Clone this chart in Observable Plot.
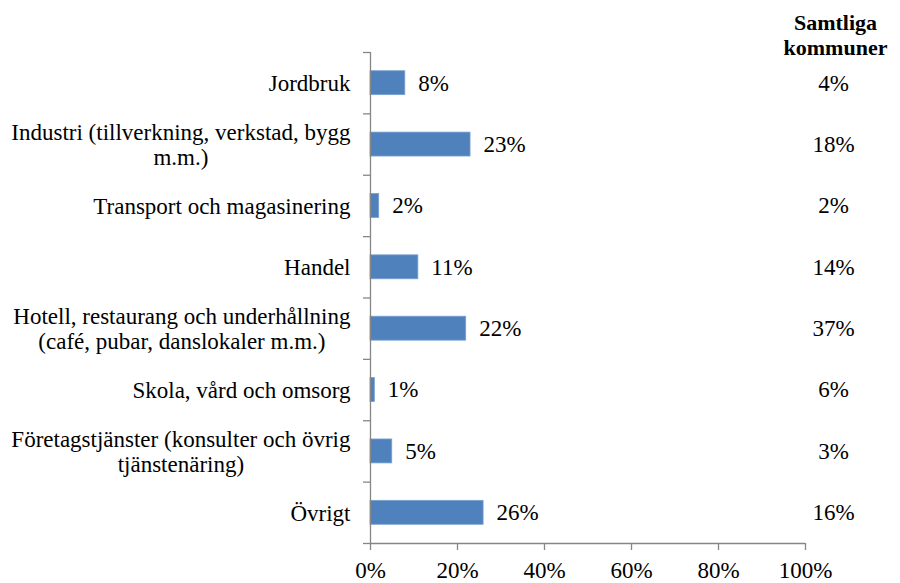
<!DOCTYPE html>
<html><head><meta charset="utf-8">
<script src="https://cdn.jsdelivr.net/npm/d3@7"></script>
<script src="https://cdn.jsdelivr.net/npm/@observablehq/plot@0.6"></script>
<style>body{margin:0;background:#fff} svg text{font-family:"Liberation Serif","Times New Roman",serif}</style>
</head><body><div id="chart"></div>
<script>
const categories = [
  "Jordbruk",
  "Industri (tillverkning, verkstad, bygg\nm.m.)",
  "Transport och magasinering",
  "Handel",
  "Hotell, restaurang och underhållning\n(café, pubar, danslokaler m.m.)",
  "Skola, vård och omsorg",
  "Företagstjänster (konsulter och övrig\ntjänstenäring)",
  "Övrigt"
];
const shares = [8, 23, 2, 11, 22, 1, 5, 26];
const allMunicipalities = [4, 18, 2, 14, 37, 6, 3, 16];
const xTicks = [0, 20, 40, 60, 80, 100];
const columnHeader = "Samtliga\nkommuner";

const FONT = '"Liberation Serif", "Times New Roman", serif';
const FS = 23;
const rows = categories.map((c, i) => ({cat: c, i, share: shares[i], all: allMunicipalities[i]}));
const boundaries = d3.range(categories.length + 1);

const ctx = document.createElement("canvas").getContext("2d");
ctx.font = `${FS}px ${FONT}`;
const labelWidth = (s) => d3.max(s.split("\n"), (l) => ctx.measureText(l).width);

const labelMarks = rows.map((r) =>
  Plot.text([r], {
    y: (d) => d.i + 0.5,
    text: "cat",
    frameAnchor: "left",
    textAnchor: "middle",
    lineHeight: 1.08,
    dx: -20 - labelWidth(r.cat) / 2,
    fill: "black",
    fontFamily: FONT
  })
);

const chart = Plot.plot({
  width: 900,
  height: 583,
  marginTop: 52,
  marginBottom: 40,
  marginLeft: 370,
  marginRight: 95,
  style: {fontFamily: FONT, fontSize: FS + "px", background: "#fff", color: "black"},
  x: {domain: [0, 100], label: null},
  y: {domain: [0, categories.length], reverse: true, label: null},
  marks: [
    Plot.rectX(rows, {x1: 0, x2: "share", y1: (d) => d.i + 0.305, y2: (d) => d.i + 0.695, fill: "#4f81bd", stroke: "#7aa0d0", strokeWidth: 0.8}),
    Plot.ruleX([0], {stroke: "#868686", strokeWidth: 1.3}),
    Plot.ruleY([categories.length], {stroke: "#868686", strokeWidth: 1.3}),
    Plot.axisY({ticks: boundaries, tickSize: 7, tickFormat: () => "", label: null, stroke: "#868686", strokeWidth: 1.3}),
    Plot.axisX({ticks: xTicks, tickFormat: (d) => d + "%", tickSize: 7, tickPadding: 11, label: null, stroke: "#868686", strokeWidth: 1.3, fill: "black", fontSize: FS, fontFamily: FONT}),
    ...labelMarks,
    Plot.text(rows, {x: "share", y: (d) => d.i + 0.5, text: (d) => d.share + "%", dx: 13, textAnchor: "start", fill: "black", fontFamily: FONT}),
    Plot.text(rows, {y: (d) => d.i + 0.5, frameAnchor: "right", dx: 28, text: (d) => d.all + "%", textAnchor: "middle", fill: "black", fontFamily: FONT}),
    Plot.text([columnHeader], {frameAnchor: "top-right", dx: 30, dy: 2, lineAnchor: "bottom", lineHeight: 1.1, fontWeight: "bold", fontSize: 22, textAnchor: "middle", fill: "black", fontFamily: FONT})
  ]
});
document.getElementById("chart").appendChild(chart);
</script>
</body></html>
